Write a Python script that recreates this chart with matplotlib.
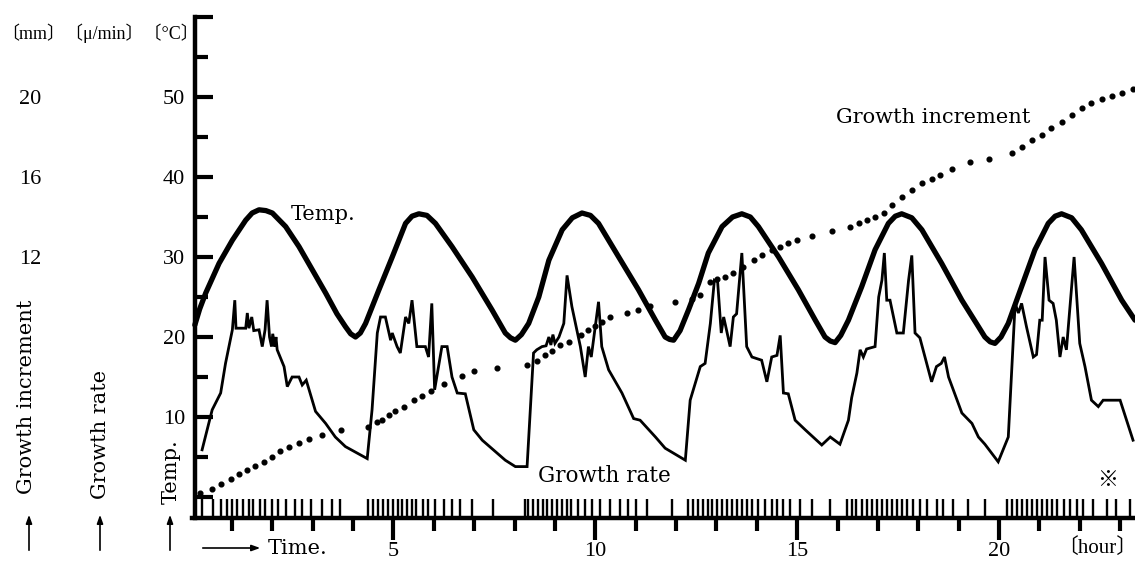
import matplotlib
matplotlib.use("Agg")
import matplotlib.pyplot as plt
from matplotlib.ticker import FixedLocator

# ---------------- data ----------------
# Temperature [deg C] vs time [hour]
temp_h = [0.08, 0.2, 0.35, 0.68, 1.01, 1.34, 1.5, 1.67, 1.84, 2.0, 2.33, 2.66, 2.99, 3.32, 3.6,
          3.81, 3.94, 4.06, 4.18,
          4.31, 4.64, 4.97, 5.3, 5.46, 5.63, 5.83, 6.04, 6.45, 6.95, 7.44, 7.77, 7.9, 8.02, 8.17,
          8.35, 8.6, 8.85, 9.18, 9.43, 9.67, 9.88, 10.08, 10.58, 11.07, 11.49, 11.73, 11.84,
          11.94, 12.1,
          12.31, 12.56, 12.8, 13.14, 13.4, 13.63, 13.84, 14.04, 14.54, 15.03, 15.45, 15.69,
          15.82, 15.94, 16.08,
          16.27, 16.6, 16.93, 17.26, 17.43, 17.59, 17.84, 18.09, 18.58, 19.08, 19.49, 19.65,
          19.78, 19.9, 20.05,
          20.23, 20.56, 20.89, 21.22, 21.39, 21.55, 21.8, 22.04, 22.54, 23.04, 23.37]
temp_c = [21.5, 23.5, 25.5, 29.2, 32.1, 34.6, 35.5, 35.9, 35.8, 35.5, 33.8, 31.3, 28.4, 25.5, 22.9,
          21.3, 20.4, 20.0, 20.5,
          21.7, 25.9, 30.0, 34.2, 35.1, 35.4, 35.2, 34.2, 31.3, 27.5, 23.4, 20.5, 19.9, 19.6, 20.3,
          21.7, 25.0, 29.6, 33.4, 34.9, 35.5, 35.2, 34.2, 30.0, 25.9, 22.1, 20.0, 19.7,
          19.6, 20.8,
          23.4, 26.7, 30.5, 33.8, 35.0, 35.4, 35.0, 33.8, 30.0, 25.9, 22.1, 20.0,
          19.5, 19.3, 20.2,
          22.1, 26.3, 30.9, 34.2, 35.1, 35.4, 34.9, 33.4, 29.2, 24.6, 21.3, 20.0,
          19.4, 19.2, 20.0,
          21.7, 26.3, 30.9, 34.2, 35.1, 35.4, 34.9, 33.4, 29.2, 24.6, 22.1]

# Growth rate [mu/min] vs time [hour]
rate_h = [0.26, 0.51, 0.72, 0.84, 1.01, 1.07, 1.1, 1.34, 1.38, 1.42, 1.49, 1.54, 1.67, 1.75, 1.82,
          1.87, 1.93, 1.98, 2.01, 2.06, 2.09, 2.12, 2.29, 2.37, 2.49, 2.66, 2.74, 2.84, 3.07, 3.32,
          3.56, 3.81, 4.35,
          4.47, 4.6, 4.68, 4.8, 4.93, 4.97, 5.09, 5.17, 5.3, 5.38, 5.46, 5.58, 5.79, 5.87, 5.95,
          6.02, 6.2, 6.33, 6.45, 6.58, 6.78, 6.99, 7.2, 7.77, 8.02, 8.31,
          8.47, 8.55, 8.68, 8.78, 8.85, 8.9, 8.95, 9.0, 9.1, 9.22, 9.3, 9.42, 9.63, 9.75, 9.83,
          9.9, 10.08, 10.16, 10.33, 10.66, 10.95, 11.11, 11.49, 11.73, 12.23,
          12.35, 12.6, 12.72, 12.85, 12.95, 13.03, 13.12, 13.18, 13.34, 13.42, 13.5, 13.63, 13.75,
          13.88, 14.12, 14.25, 14.37, 14.5, 14.58, 14.66, 14.78, 14.95, 15.2, 15.61, 15.82, 16.06,
          16.27, 16.35, 16.48, 16.56, 16.64, 16.72, 16.93, 17.02, 17.1, 17.16, 17.22, 17.3, 17.47,
          17.63, 17.76, 17.84, 17.92, 18.04, 18.33, 18.45, 18.57, 18.65, 18.75, 19.08, 19.33, 19.49,
          19.65, 19.98,
          20.23, 20.4, 20.48, 20.56, 20.68, 20.85, 20.93, 21.01, 21.07, 21.14, 21.24, 21.34, 21.42,
          21.51, 21.59, 21.67, 21.86, 22.0, 22.13, 22.29, 22.46, 22.58, 23.0, 23.32]
rate_v = [5.9, 10.9, 13.0, 16.7, 20.9, 24.6, 21.1, 21.1, 23.0, 21.1, 22.5, 20.8, 20.9, 18.8, 20.9,
          24.6, 20.0, 18.8, 20.4, 18.8, 20.0, 18.4, 16.3, 13.8, 15.0, 15.0, 14.0, 14.6, 10.7, 9.2,
          7.5, 6.3, 4.8,
          10.9, 20.5, 22.5, 22.5, 19.6, 20.5, 18.8, 18.0, 22.5, 21.7, 24.6, 18.8, 18.8, 17.5, 24.2,
          13.4, 18.8, 18.8, 15.0, 13.0, 12.9, 8.4, 7.1, 4.6, 3.8, 3.8,
          18.0, 18.4, 18.8, 18.9, 20.0, 19.0, 20.3, 19.2, 20.0, 21.7, 27.7, 23.8, 18.8, 15.0, 18.8,
          17.5, 24.4, 18.8, 15.9, 13.0, 9.8, 9.6, 7.5, 6.1, 4.6,
          12.1, 16.3, 16.7, 21.7, 27.1, 26.9, 20.5, 22.5, 18.8, 22.5, 22.9, 30.5, 18.8,
          17.5, 17.1, 14.4, 17.5, 17.7, 20.2, 13.0, 12.9, 9.6, 8.4, 6.5, 7.5, 6.6,
          9.6, 12.4, 15.5, 18.4, 17.5, 18.5, 18.8, 25.0, 27.1, 30.5, 24.6, 24.6, 20.5,
          20.5, 27.1, 30.2, 20.5, 19.9, 14.4, 16.3, 16.7, 17.5, 15.0, 10.5, 9.2, 7.5,
          6.6, 4.4,
          7.5, 24.2, 23.0, 24.2, 21.3, 17.5, 17.8, 22.1, 22.1, 30.0, 24.6, 24.2, 22.1,
          17.5, 20.0, 18.4, 30.0, 19.2, 16.3, 12.1, 11.3, 12.1, 12.1, 7.1]

# Growth increment [mm] vs time [hour] (dotted curve)
inc_h = [0.22, 0.51, 0.74, 0.97, 1.17, 1.38, 1.58, 1.79, 2.0, 2.2, 2.41, 2.66, 2.9, 3.23, 3.69,
         4.37, 4.6, 4.72, 4.88, 5.05, 5.26, 5.5, 5.71, 5.94, 6.25, 6.7, 6.99, 7.57,
         8.31, 8.56, 8.76, 8.93, 9.13, 9.34, 9.65, 9.83, 10.0, 10.17, 10.37, 10.78, 11.07, 11.36,
         11.98, 12.39, 12.6, 12.85, 13.01, 13.22, 13.42, 13.67, 13.92, 14.13, 14.37, 14.58, 14.78,
         14.99, 15.36,
         15.86, 16.31, 16.52, 16.72, 16.93, 17.14, 17.34, 17.59, 17.84, 18.09, 18.33, 18.54, 18.83,
         19.28,
         19.74, 20.31, 20.56, 20.81, 21.06, 21.3, 21.55, 21.8, 22.05, 22.29, 22.54, 22.79, 23.04, 23.32]
inc_mm = [0.2, 0.38, 0.63, 0.88, 1.16, 1.36, 1.56, 1.76, 2.0, 2.28, 2.52, 2.68, 2.88, 3.1, 3.36,
          3.48, 3.76, 3.84, 4.1, 4.28, 4.52, 4.84, 5.04, 5.28, 5.64, 6.04, 6.28, 6.44,
          6.6, 6.8, 7.1, 7.28, 7.6, 7.76, 8.1, 8.36, 8.56, 8.76, 9.0, 9.2, 9.36, 9.56,
          9.76, 9.92, 10.1, 10.76, 10.88, 11.0, 11.2, 11.52, 11.84, 12.08, 12.36, 12.52, 12.68,
          12.84, 13.04,
          13.28, 13.52, 13.72, 13.84, 14.0, 14.2, 14.6, 15.0, 15.36, 15.68, 15.92, 16.1, 16.4,
          16.76,
          16.92, 17.2, 17.48, 17.84, 18.1, 18.44, 18.76, 19.1, 19.44, 19.68, 19.88, 20.04, 20.2, 20.4]

# Time marks (short vertical strokes above the time axis), hours
mark_h = [0.25, 0.54, 0.74, 0.87, 0.99, 1.12, 1.28, 1.41, 1.53, 1.69, 1.82, 1.98, 2.15, 2.35,
          2.56, 2.73, 2.97, 3.22, 3.47, 3.68, 4.38, 4.5, 4.62, 4.75, 4.87, 5.0, 5.12, 5.2, 5.33,
          5.45, 5.57, 5.74, 5.86, 6.03, 6.24, 6.44, 6.65, 6.94, 7.47, 8.26, 8.34, 8.46, 8.59,
          8.71, 8.8, 8.92, 9.04, 9.17, 9.29, 9.41, 9.58, 9.75, 9.91, 10.12, 10.36, 10.61, 10.82,
          11.02, 11.27, 11.89, 12.3, 12.43, 12.55, 12.68, 12.8, 12.88, 13.01, 13.13, 13.26,
          13.38, 13.5, 13.63, 13.75, 13.87, 14.04, 14.21, 14.37, 14.49, 14.66, 14.82, 15.07,
          15.36, 15.81, 16.23, 16.35, 16.47, 16.6, 16.72, 16.85, 16.97, 17.09, 17.22, 17.34,
          17.47, 17.59, 17.71, 17.88, 18.04, 18.21, 18.46, 18.62, 18.87, 19.24, 19.65, 20.19,
          20.31, 20.44, 20.56, 20.69, 20.81, 20.93, 21.06, 21.18, 21.31, 21.43, 21.6, 21.76,
          21.93, 22.09, 22.34, 22.67, 22.91, 23.24]

temp_ticks = [10, 20, 30, 40, 50]
inc_ticks = [12, 16, 20]
hour_ticks = [5, 10, 15, 20]

# ---------------- figure ----------------
W, H = 1135, 570
fig = plt.figure(figsize=(W / 100, H / 100), dpi=100)
x0_px, ybot_px, ytop_px = 191.6, 518, 17
ax = fig.add_axes([x0_px / W, 1 - ybot_px / H, 1 - x0_px / W, (ybot_px - ytop_px) / H])
XMAX = (W - x0_px) / 40.37
YMIN, YMAX = -2.625, 60
ax.set_xlim(0, XMAX)
ax.set_ylim(YMIN, YMAX)

serif = "DejaVu Serif"
numf = "Liberation Serif"

for s in ["top", "right"]:
    ax.spines[s].set_visible(False)
ax.spines["left"].set_position(("data", 0.085))
ax.spines["left"].set_linewidth(3.2)
ax.spines["bottom"].set_linewidth(3.2)
ax.spines["left"].set_capstyle("projecting")

# y ticks (temperature / growth-rate scale)
ax.yaxis.set_major_locator(FixedLocator([0] + temp_ticks + [60]))
ax.set_yticklabels([""] + [str(t) for t in temp_ticks] + [""])
ax.yaxis.set_minor_locator(FixedLocator([5, 15, 25, 35, 45, 55]))
ax.tick_params(axis="y", which="major", direction="in", length=13, width=3, pad=7,
               labelsize=16)
ax.tick_params(axis="y", which="minor", direction="in", length=9, width=3)
for lab in ax.get_yticklabels():
    lab.set_fontfamily(numf)

# x ticks (time)
ax.xaxis.set_major_locator(FixedLocator(hour_ticks))
ax.set_xticklabels([str(t) for t in hour_ticks])
ax.xaxis.set_minor_locator(FixedLocator([h for h in range(1, 24) if h % 5 != 0]))
ax.tick_params(axis="x", which="major", direction="out", length=16, width=3, pad=1,
               labelsize=16)
ax.tick_params(axis="x", which="minor", direction="out", length=9, width=3)
for lab in ax.get_xticklabels():
    lab.set_fontfamily(numf)

# curves
ax.plot(temp_h, temp_c, color="black", lw=3.8, solid_joinstyle="round",
        solid_capstyle="round", zorder=3)
ax.plot(rate_h, rate_v, color="black", lw=2.0, solid_joinstyle="miter", zorder=3)
ax.vlines(mark_h, YMIN, -0.2, color="black", lw=1.7, zorder=2)

# growth increment on its own (mm) scale, same geometry
ax2 = ax.twinx()
ax2.set_ylim(YMIN / 2.5, YMAX / 2.5)
ax2.set_xlim(0, XMAX)
for s in ["top", "right", "bottom"]:
    ax2.spines[s].set_visible(False)
ax2.yaxis.tick_left()
ax2.spines["left"].set_position(("outward", 106))
ax2.spines["left"].set_visible(False)
ax2.yaxis.set_major_locator(FixedLocator(inc_ticks))
ax2.set_yticklabels([str(t) for t in inc_ticks])
ax2.tick_params(axis="y", length=0, pad=2, labelsize=16)
for lab in ax2.get_yticklabels():
    lab.set_fontfamily(numf)
ax2.plot(inc_h, inc_mm, linestyle="none", marker="o", ms=3.4, color="black", zorder=3)

# annotations in the plot
ax.text(2.45, 35.3, "Temp.", family=serif, fontsize=15, va="center", ha="left")
ax.text(15.95, 47.5, "Growth increment", family=serif, fontsize=15, va="center", ha="left")
ax.text(8.58, 2.6, "Growth rate", family=serif, fontsize=15.5, va="center", ha="left")
ax.text(22.7, 2.1, "※", family=["Noto Sans CJK JP", "DejaVu Sans"], fontsize=15,
        va="center", ha="center")

# header with units
fig.text(1 / W, 1 - 33 / H, "〔mm〕〔μ/min〕〔°C〕", family=[numf, "Noto Sans CJK JP"],
         fontsize=13, va="center", ha="left")

# rotated axis names with arrows
for xc, yc, s in [(27, 397, "Growth increment"), (100, 434, "Growth rate"),
                  (171, 472, "Temp.")]:
    fig.text(xc / W, 1 - yc / H, s, family=serif, fontsize=15, rotation=90,
             va="center", ha="center")
for xc in [29, 100, 170]:
    ax.annotate("", xy=(xc / W, 1 - 512 / H), xytext=(xc / W, 1 - 553 / H),
                xycoords="figure fraction", textcoords="figure fraction",
                arrowprops=dict(arrowstyle="-|>,head_length=0.5,head_width=0.18",
                                color="black", lw=1.2), annotation_clip=False)

# time arrow and hour unit
ax.annotate("", xy=(263 / W, 1 - 548 / H), xytext=(200 / W, 1 - 548 / H),
            xycoords="figure fraction", textcoords="figure fraction",
            arrowprops=dict(arrowstyle="-|>,head_length=0.5,head_width=0.18",
                            color="black", lw=1.2), annotation_clip=False)
fig.text(268 / W, 1 - 548 / H, "Time.", family=serif, fontsize=15, va="center", ha="left")
fig.text(1097 / W, 1 - 548 / H, "〔hour〕", family=[numf, "Noto Sans CJK JP"], fontsize=15,
         va="center", ha="center")

fig.savefig("out.png", dpi=100)
